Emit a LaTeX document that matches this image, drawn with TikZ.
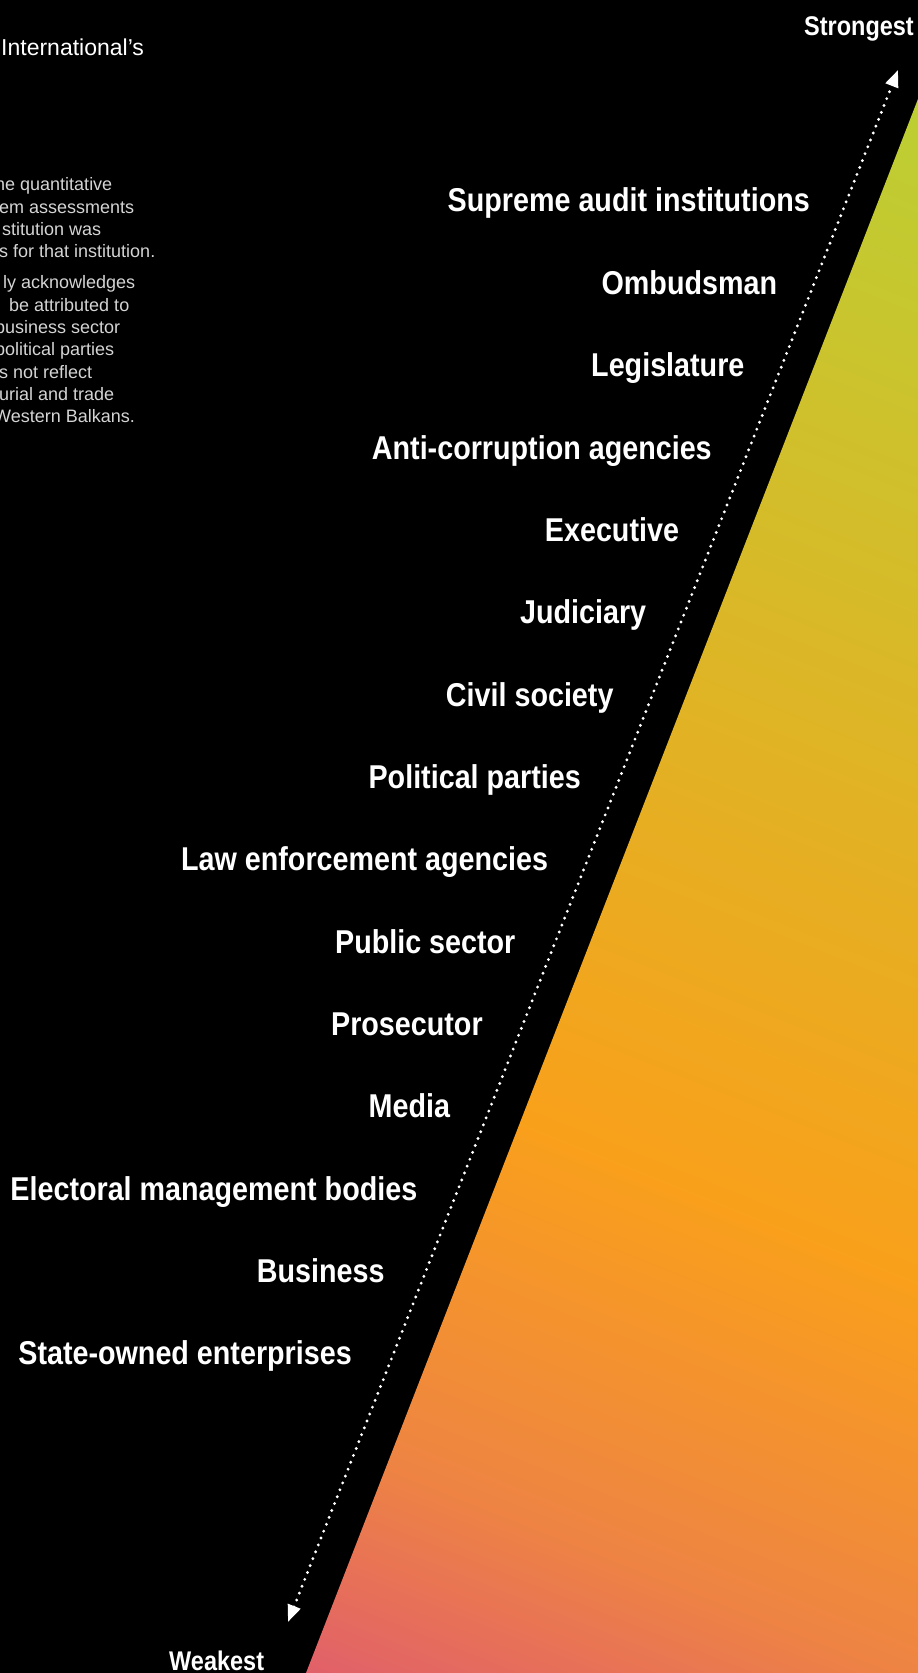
\documentclass[tikz,border=0pt]{standalone}
\usepackage{fontspec}
\setmainfont{Liberation Sans}
\newfontfamily\condfont{Liberation Sans}[FakeStretch=0.87]
\usetikzlibrary{arrows.meta}
\definecolor{heatred}{HTML}{E1606A}
\definecolor{heatcoral}{HTML}{EE8443}
\definecolor{heatorange}{HTML}{F9A01B}
\definecolor{heatlime}{HTML}{BCCF33}
\definecolor{notegray}{HTML}{D4D4D4}
\pgfdeclareverticalshading{heatscale}{100bp}{color(0bp)=(heatred); color(23.8bp)=(heatred); color(30.5bp)=(heatcoral); color(41.3bp)=(heatorange); color(73.5bp)=(heatlime); color(100bp)=(heatlime)}

\begin{document}
\begin{tikzpicture}
    [x=1pt, y=1pt,
    inst/.style={anchor=base east, inner sep=0pt, text=white, font=\condfont\bfseries\fontsize{33}{36}\selectfont},
    endtext/.style={inner sep=0pt, text=white, font=\condfont\bfseries\fontsize{27}{30}\selectfont},
    notetext/.style={anchor=base west, inner sep=0pt, text=notegray, font=\fontsize{18}{22}\selectfont},
    dotline/.style={white, line width=3.2pt, line cap=round, dash pattern=on 0pt off 7.4pt,
        >={Triangle[length=17pt, width=13pt]}}]
    \path[use as bounding box, fill=black] (0,0) rectangle (918,1673);
    % gradient wedge
    \begin{scope}
        \clip (918,1574) -- (918,0) -- (306,0) -- cycle;
        \shade[shading=heatscale, shading angle=-21.8] (-238,-14) rectangle (1462,1686);
    \end{scope}
    % clipped notes on the left
    \node[notetext, font=\fontsize{23}{26}\selectfont, text=white] (title) at (1, 1617) {International's};
    \node[notetext] (n1) at (-5, 1482) {ne quantitative};
    \node[notetext] (n2) at (-1, 1459.7) {em assessments};
    \node[notetext] (n3) at (2, 1437.4) {stitution was};
    \node[notetext] (n4) at (-1, 1415) {s for that institution.};
    \node[notetext] (n5) at (3, 1384) {ly acknowledges};
    \node[notetext] (n6) at (9, 1361.7) {be attributed to};
    \node[notetext] (n7) at (-5, 1339.4) {business sector};
    \node[notetext] (n8) at (-5, 1317) {political parties};
    \node[notetext] (n9) at (-1, 1294.8) {s not reflect};
    \node[notetext] (n10) at (-1, 1272.5) {urial and trade};
    \node[notetext] (n11) at (-6, 1250) {Western Balkans.};
    % scale ends
    \coordinate (weak) at (288, 51);
    \coordinate (strong) at (898, 1603);
    \node[endtext, anchor=base east] (S) at (914, 1637) {Strongest};
    \node[endtext, anchor=base west] (W) at (169, 2) {Weakest};
    \draw[dotline, <->] (weak) -- (strong);
    % institutions
    \node[inst] (sai) at (810, 1461) {Supreme audit institutions};
    \node[inst] (omb) at (777.3, 1378.6) {Ombudsman};
    \node[inst] (leg) at (744.6, 1296.3) {Legislature};
    \node[inst] (aca) at (711.9, 1213.9) {Anti-corruption agencies};
    \node[inst] (exe) at (679.2, 1131.6) {Executive};
    \node[inst] (jud) at (646.4, 1049.2) {Judiciary};
    \node[inst] (civ) at (613.7, 966.8) {Civil society};
    \node[inst] (pol) at (581.0, 884.5) {Political parties};
    \node[inst] (law) at (548.3, 802.1) {Law enforcement agencies};
    \node[inst] (pub) at (515.6, 719.8) {Public sector};
    \node[inst] (pro) at (482.9, 637.4) {Prosecutor};
    \node[inst] (med) at (450.2, 555.0) {Media};
    \node[inst] (emb) at (417.5, 472.7) {Electoral management bodies};
    \node[inst] (bus) at (384.8, 390.3) {Business};
    \node[inst] (soe) at (352, 308) {State-owned enterprises};
\end{tikzpicture}
\end{document}
